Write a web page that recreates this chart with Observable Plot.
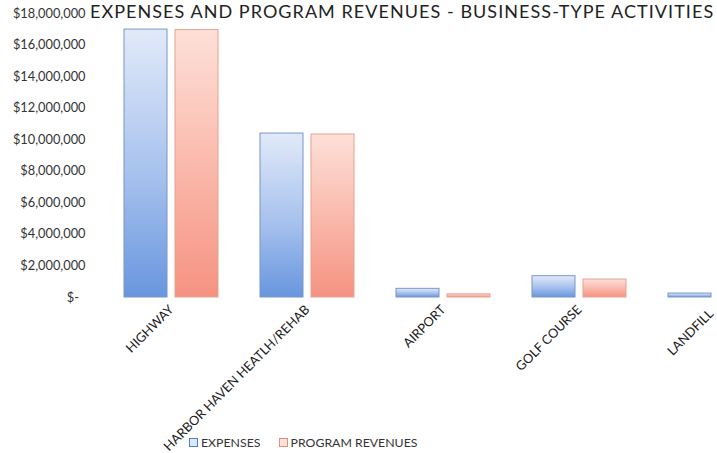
<!DOCTYPE html>
<html>
<head>
<meta charset="utf-8">
<script src="https://cdn.jsdelivr.net/npm/d3@7"></script>
<script src="https://cdn.jsdelivr.net/npm/@observablehq/plot@0.6"></script>
<style>
  html, body { margin: 0; padding: 0; background: #fff; overflow: hidden; }
  #wrap { position: relative; width: 717px; height: 453px; overflow: hidden; font-family: Lato, "Open Sans", sans-serif; }
  #title { position: absolute; left: 90px; top: 0; height: 22px; line-height: 22px; font-size: 18px; color: #222; white-space: nowrap; letter-spacing: 1.05px; }
  #chart { position: absolute; left: 0; top: 0; }
  #legend { position: absolute; left: 189px; top: 435px; font-size: 12.3px; color: #333; white-space: nowrap; }
  #legend span.item { display: inline-flex; align-items: center; margin-right: 15px; }
  #legend span.sw { display: inline-block; width: 7px; height: 7px; margin-right: 3px; border: 1px solid; }
</style>
</head>
<body>
<div id="wrap">
  <div id="chart"></div>
  <div id="title">EXPENSES AND PROGRAM REVENUES - BUSINESS-TYPE ACTIVITIES</div>
  <div id="legend">
    <span class="item"><span class="sw" style="border-color:#4a7fd0;background:#dfe8f7"></span>EXPENSES</span>
    <span class="item"><span class="sw" style="border-color:#e98a7a;background:#fde3dc"></span>PROGRAM REVENUES</span>
  </div>
</div>
<script>
// Business-type activities: expenses vs. program revenues (dollars)
const categories = ["HIGHWAY", "HARBOR HAVEN HEATLH/REHAB", "AIRPORT", "GOLF COURSE", "LANDFILL"];
const series = ["EXPENSES", "PROGRAM REVENUES"];
const expenses = [16980000, 10390000, 550000, 1350000, 250000];
const revenues = [16950000, 10330000, 200000, 1140000, 180000];
const yTicks = [0, 2000000, 4000000, 6000000, 8000000, 10000000, 12000000, 14000000, 16000000, 18000000];

const expRows = categories.map((c, i) => ({category: c, series: series[0], value: expenses[i]}));
const revRows = categories.map((c, i) => ({category: c, series: series[1], value: revenues[i]}));

const fmt = d3.format(",");
const money = v => v === 0 ? "$-\u00a0\u00a0" : "$" + fmt(v);

// vertical gradients, one per series, applied per bar
function gradients() {
  const ns = "http://www.w3.org/2000/svg";
  const defs = document.createElementNS(ns, "defs");
  const specs = [
    ["gExp", [["0%", "#e2eaf9"], ["55%", "#a6c1ed"], ["100%", "#6896de"]]],
    ["gRev", [["0%", "#fde0d8"], ["55%", "#fab6a8"], ["100%", "#f59282"]]]
  ];
  for (const [id, stops] of specs) {
    const g = document.createElementNS(ns, "linearGradient");
    g.setAttribute("id", id);
    g.setAttribute("x1", "0"); g.setAttribute("y1", "0");
    g.setAttribute("x2", "0"); g.setAttribute("y2", "1");
    for (const [off, col] of stops) {
      const s = document.createElementNS(ns, "stop");
      s.setAttribute("offset", off);
      s.setAttribute("stop-color", col);
      g.appendChild(s);
    }
    defs.appendChild(g);
  }
  return defs;
}

const chart = Plot.plot({
  width: 784,
  height: 453,
  marginTop: 13,
  marginBottom: 156,
  marginLeft: 102,
  marginRight: 0,
  style: {maxWidth: "none", background: "transparent", fontFamily: "Lato, 'Open Sans', sans-serif", fontSize: "12.8px", color: "#333", overflow: "visible"},
  fx: {domain: categories, padding: 0, tickSize: 0, tickPadding: 10, tickRotate: -45, label: null, fontSize: "12px"},
  x: {domain: series, axis: null, paddingInner: 0.154, paddingOuter: 0.385},
  y: {domain: [0, 18000000], ticks: yTicks, tickFormat: money, tickSize: 0, tickPadding: 18, label: null},
  marks: [
    gradients,
    Plot.barY(expRows, {fx: "category", x: "series", y: "value", fill: "url(#gExp)", stroke: "#7896c6", strokeWidth: 1}),
    Plot.barY(revRows, {fx: "category", x: "series", y: "value", fill: "url(#gRev)", stroke: "#e3a292", strokeWidth: 1})
  ]
});
chart.querySelectorAll("g[aria-label='fx-axis tick label'] text").forEach(t => {
  t.setAttribute("fill", "#1a1a1a");
  // pull the last category label back inside the right edge
  if (t.textContent === categories[categories.length - 1]) t.setAttribute("dx", "-6");
});
document.getElementById("chart").appendChild(chart);
</script>
</body>
</html>
